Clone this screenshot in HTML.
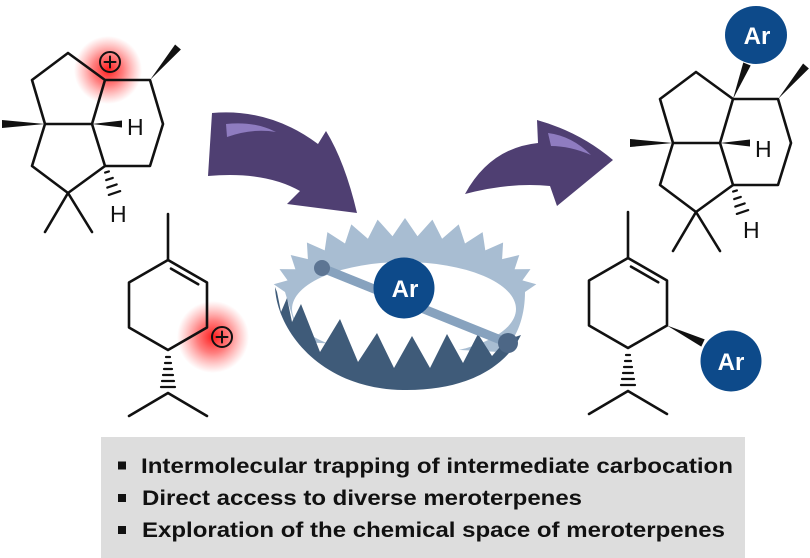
<!DOCTYPE html>
<html>
<head>
<meta charset="utf-8">
<style>
  html,body{margin:0;padding:0;background:#ffffff;}
  svg{display:block;}
</style>
</head>
<body>
<svg width="810" height="558" viewBox="0 0 810 558" xmlns="http://www.w3.org/2000/svg">
  <defs>
    <radialGradient id="glow" cx="0.5" cy="0.5" r="0.5">
      <stop offset="0" stop-color="#ff1010" stop-opacity="0.95"/>
      <stop offset="0.45" stop-color="#ff2a2a" stop-opacity="0.6"/>
      <stop offset="1" stop-color="#ff5050" stop-opacity="0"/>
    </radialGradient>
    <g id="tri">
      <polyline points="45,124 32,80 68,53 105,80 150,80 163,124 150,166 105,166 68,193 32,166 45,124 92,124 105,80" fill="none"/>
      <line x1="92" y1="124" x2="105" y2="166"/>
      <line x1="68" y1="193" x2="45" y2="232"/>
      <line x1="68" y1="193" x2="92" y2="232"/>
      <polygon points="45,124 2,120 2,128" fill="#111" stroke="none"/>
      <polygon points="92,124 122,120.5 122,127.5" fill="#111" stroke="none"/>
      <polygon points="150,80 180.9,49.5 175.1,44.5" fill="#111" stroke="none"/>
      <g stroke-width="2.2">
        <line x1="105.1" y1="172.6" x2="108.9" y2="171.4"/>
        <line x1="106.2" y1="180.1" x2="112.8" y2="177.9"/>
        <line x1="107.3" y1="187.6" x2="116.7" y2="184.4"/>
        <line x1="108.8" y1="194.9" x2="120.2" y2="191.1"/>
      </g>
    </g>
    <g id="ring">
      <polygon points="168,260 207,282.5 207,327.5 168,350 129,327.5 129,282.5" fill="none"/>
      <line x1="168" y1="260" x2="168" y2="214"/>
      <line x1="171" y1="268.6" x2="198.2" y2="284.3"/>
      <polyline points="129,416 168,393 207,416" fill="none"/>
      <g stroke-width="2.2">
        <line x1="166" y1="357" x2="170" y2="357"/>
        <line x1="165" y1="363" x2="171" y2="363"/>
        <line x1="164" y1="369" x2="172" y2="369"/>
        <line x1="163" y1="375" x2="173" y2="375"/>
        <line x1="162" y1="381" x2="174" y2="381"/>
        <line x1="161" y1="387" x2="175" y2="387"/>
      </g>
    </g>
  </defs>

  <!-- Gray text box -->
  <rect x="101" y="437" width="644" height="121" fill="#dddddd"/>
  <rect x="118" y="461.5" width="8" height="8" fill="#111"/>
  <rect x="118" y="494" width="8" height="8" fill="#111"/>
  <rect x="118" y="526" width="8" height="8" fill="#111"/>
  <g font-family="'Liberation Sans', Arial, sans-serif" font-weight="bold" font-size="21" fill="#111">
    <text x="141" y="473" textLength="592" lengthAdjust="spacingAndGlyphs">Intermolecular trapping of intermediate carbocation</text>
    <text x="142" y="505" textLength="440" lengthAdjust="spacingAndGlyphs">Direct access to diverse meroterpenes</text>
    <text x="142" y="537" textLength="583" lengthAdjust="spacingAndGlyphs">Exploration of the chemical space of meroterpenes</text>
  </g>

  <!-- Glows -->
  <circle cx="108" cy="70" r="34" fill="url(#glow)"/>
  <circle cx="213" cy="337" r="36" fill="url(#glow)"/>

  <!-- Molecules -->
  <g stroke="#111" stroke-width="2.6" stroke-linecap="round" stroke-linejoin="round" fill="none">
    <use href="#tri"/>
    <use href="#tri" transform="translate(628,19)"/>
    <use href="#ring"/>
    <use href="#ring" transform="translate(460,-2)"/>
    <!-- plus circles -->
    <circle cx="110" cy="62" r="10" stroke-width="2"/>
    <line x1="104.5" y1="62" x2="115.5" y2="62" stroke-width="2"/>
    <line x1="110" y1="56.5" x2="110" y2="67.5" stroke-width="2"/>
    <circle cx="222" cy="337" r="10" stroke-width="2"/>
    <line x1="216.5" y1="337" x2="227.5" y2="337" stroke-width="2"/>
    <line x1="222" y1="331.5" x2="222" y2="342.5" stroke-width="2"/>
  </g>
  <!-- Ar wedges -->
  <polygon points="733,99 750.7,65.5 743.3,62.5" fill="#111"/>
  <polygon points="667,325.5 701.3,346.6 704.7,339.4" fill="#111"/>

  <!-- H labels -->
  <g font-family="'Liberation Sans', Arial, sans-serif" font-size="23" fill="#111">
    <text x="127" y="135">H</text>
    <text x="110" y="222">H</text>
    <text x="755" y="157">H</text>
    <text x="743" y="238">H</text>
  </g>

  <!-- Purple arrows -->
  <path d="M212,113 Q270,108 318,144 L326,131 Q345,162 357,213 L287,204 L300,191 Q265,171 208,176 Z" fill="#4f3f72"/>
  <path d="M226,124 Q255,121 276,132 Q252,128 227,137 Z" fill="#8f7cc0"/>
  <path d="M465,194 Q490,148 538,143 L537,120 Q580,132 613,160 L557,206 L550,186 Q510,182 465,194 Z" fill="#4f3f72"/>
  <path d="M548,133 Q572,136 591,155 Q570,146 551,146 Z" fill="#8f7cc0"/>

  <!-- Trap -->
  <path d="M285,292 L273.7,284.3 L287.6,280.4 L279.5,269.1 L295.4,269.2 L290.7,255 L307.9,259.1 L306.9,242.5 L324.7,250.4 L327.4,232.1 L345,243.5 L351.3,224.4 L367.9,238.7 L377.6,219.6 L392.5,236.3 L405,218 L417.5,236.3 L432.4,219.6 L442.1,238.7 L458.7,224.4 L465,243.5 L482.6,232.1 L485.3,250.4 L503.1,242.5 L502.1,259.1 L519.3,255 L514.6,269.2 L530.5,269.1 L522.4,280.4 L536.3,284.3 L525,292 C525,318 516,342 500,352 L300,342 Z" fill="#a8bdd2"/>
  <ellipse cx="404" cy="309" rx="112" ry="47" fill="#ffffff"/>
  <path d="M275,287 C277,332 322,389 403,390 C468,391 506,366 521,335 L506,340 L492,356 L478,334 L463,363 L447,334 L430,368 L412,336 L394,368 L377,333 L358,362 L340,319 L320,352 L301,304 L292,322 L287,298 L281,312 L277,292 Z" fill="#3f5b79"/>
  <line x1="322" y1="268" x2="508" y2="343" stroke="#87a2be" stroke-width="9"/>
  <circle cx="322" cy="268" r="8" fill="#5d7593"/>
  <circle cx="508" cy="343" r="10" fill="#4d6786"/>

  <!-- Ar circles -->
  <circle cx="404" cy="288" r="30.5" fill="#0d4a8a"/>
  <ellipse cx="756" cy="35" rx="31" ry="29" fill="#0d4a8a"/>
  <circle cx="731" cy="361" r="30.5" fill="#0d4a8a"/>
  <g font-family="'Liberation Sans', Arial, sans-serif" font-weight="bold" font-size="24" fill="#ffffff" text-anchor="middle">
    <text x="405" y="297">Ar</text>
    <text x="757" y="44">Ar</text>
    <text x="731" y="370">Ar</text>
  </g>
</svg>
</body>
</html>
